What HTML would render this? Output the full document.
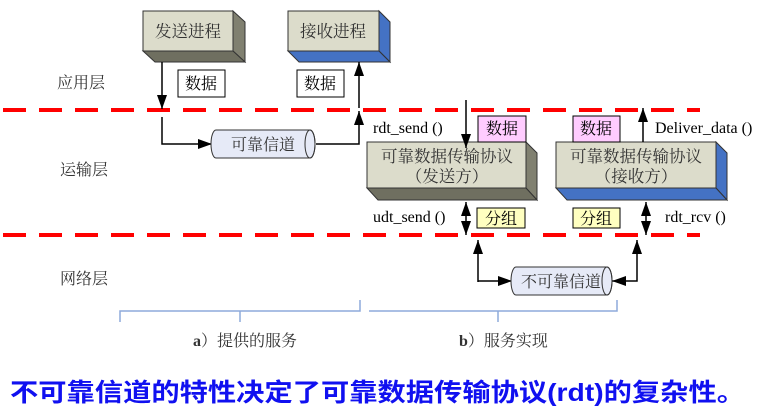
<!DOCTYPE html>
<html><head><meta charset="utf-8"><style>
html,body{margin:0;padding:0;background:#fff;}
svg{display:block;}
text{font-family:"Liberation Serif","Noto Serif CJK SC","Noto Sans CJK SC",serif;}
</style></head><body>
<svg width="764" height="417" viewBox="0 0 764 417" xmlns="http://www.w3.org/2000/svg">
<defs>
<marker id="ah" viewBox="0 0 14 10" refX="14" refY="5" markerWidth="14" markerHeight="10" orient="auto-start-reverse" markerUnits="userSpaceOnUse"><path d="M0,0 L14,5 L0,10 z" fill="#000"/></marker>
</defs>
<rect width="764" height="417" fill="#fff"/>
<line x1="3" y1="110" x2="700" y2="110" stroke="#f00" stroke-width="4" stroke-dasharray="23,13"/>
<line x1="3" y1="235" x2="700" y2="235" stroke="#f00" stroke-width="4" stroke-dasharray="23,13"/>
<g font-size="16" fill="#333">
<text x="57" y="88">应用层</text>
<text x="60" y="175">运输层</text>
<text x="60" y="284">网络层</text>
</g>
<polygon points="233,11 245,22 245,62 233,51" fill="#808070" stroke="#333"/>
<polygon points="143,51 233,51 245,62 155,62" fill="#6f6f60" stroke="#333"/>
<rect x="143" y="11" width="90" height="40" fill="#dcdccb" stroke="#333"/>
<text x="188" y="37" font-size="16.5" text-anchor="middle" fill="#333">发送进程</text>
<polygon points="379,11 390,22 390,62 379,51" fill="#4472c4" stroke="#333"/>
<polygon points="288,51 379,51 390,62 299,62" fill="#4472c4" stroke="#333"/>
<rect x="288" y="11" width="91" height="40" fill="#dcdccb" stroke="#333"/>
<text x="333" y="37" font-size="16.5" text-anchor="middle" fill="#333">接收进程</text>
<rect x="178" y="70" width="47" height="27" fill="#fff" stroke="#000"/>
<text x="201" y="89" font-size="16" text-anchor="middle">数据</text>
<rect x="297" y="70" width="47" height="27" fill="#fff" stroke="#000"/>
<text x="320" y="89" font-size="16" text-anchor="middle">数据</text>
<line x1="162" y1="62" x2="162" y2="109" stroke="#000" stroke-width="1.5" marker-end="url(#ah)"/>
<polyline points="162,117 162,144 212,144" fill="none" stroke="#000" stroke-width="1.5" marker-end="url(#ah)"/>
<polyline points="316,144 359,144 359,111" fill="none" stroke="#000" stroke-width="1.5" marker-end="url(#ah)"/>
<line x1="359" y1="108" x2="359" y2="62" stroke="#000" stroke-width="1.5" marker-end="url(#ah)"/>
<path d="M216,130 L310,130 A5,14 0 0 1 310,158 L216,158 A5,14 0 0 1 216,130 z" fill="#e6eaf7" stroke="#333"/>
<ellipse cx="310" cy="144" rx="5" ry="14" fill="none" stroke="#333"/>
<text x="263" y="150" font-size="16" text-anchor="middle" fill="#333">可靠信道</text>
<polygon points="526,142 537,153 537,200 526,188" fill="#808070" stroke="#333"/>
<polygon points="367,188 526,188 537,200 378,200" fill="#6f6f60" stroke="#333"/>
<rect x="367" y="142" width="159" height="46" fill="#dcdccb" stroke="#333"/>
<text x="447" y="162" font-size="16.5" text-anchor="middle" fill="#333">可靠数据传输协议</text>
<text x="447" y="182" font-size="16.5" text-anchor="middle" fill="#333">（发送方）</text>
<polygon points="716,142 727,153 727,200 716,188" fill="#4472c4" stroke="#333"/>
<polygon points="556,188 716,188 727,200 567,200" fill="#4472c4" stroke="#333"/>
<rect x="556" y="142" width="160" height="46" fill="#dcdccb" stroke="#333"/>
<text x="636" y="162" font-size="16.5" text-anchor="middle" fill="#333">可靠数据传输协议</text>
<text x="636" y="182" font-size="16.5" text-anchor="middle" fill="#333">（接收方）</text>
<rect x="478" y="116" width="48" height="26" fill="#ffccff" stroke="#000"/>
<text x="502" y="134" font-size="16" text-anchor="middle">数据</text>
<rect x="573" y="116" width="47" height="26" fill="#ffccff" stroke="#000"/>
<text x="596" y="134" font-size="16" text-anchor="middle">数据</text>
<line x1="466" y1="100" x2="466" y2="148" stroke="#000" stroke-width="1.5" marker-end="url(#ah)"/>
<line x1="643" y1="142" x2="643" y2="108" stroke="#000" stroke-width="1.5" marker-end="url(#ah)"/>
<line x1="466" y1="202" x2="466" y2="235" stroke="#000" stroke-width="1.5" marker-start="url(#ah)" marker-end="url(#ah)"/>
<line x1="646" y1="202" x2="646" y2="235" stroke="#000" stroke-width="1.5" marker-start="url(#ah)" marker-end="url(#ah)"/>
<rect x="477" y="208" width="48" height="20" fill="#ffffc0" stroke="#000"/>
<text x="501" y="224" font-size="16" text-anchor="middle">分组</text>
<rect x="573" y="208" width="47" height="20" fill="#ffffc0" stroke="#000"/>
<text x="596" y="224" font-size="16" text-anchor="middle">分组</text>
<g font-size="16">
<text x="373" y="133">rdt_send ()</text>
<text x="655" y="133">Deliver_data ()</text>
<text x="373" y="222">udt_send ()</text>
<text x="665" y="222">rdt_rcv ()</text>
</g>
<line x1="478" y1="282" x2="478" y2="240" stroke="#000" stroke-width="1.5" marker-end="url(#ah)"/>
<line x1="478" y1="281" x2="512" y2="281" stroke="#000" stroke-width="1.5" marker-end="url(#ah)"/>
<polyline points="612,281 637,281 637,240" fill="none" stroke="#000" stroke-width="1.5" marker-start="url(#ah)" marker-end="url(#ah)"/>
<path d="M516,267 L607,267 A5,14 0 0 1 607,295 L516,295 A5,14 0 0 1 516,267 z" fill="#e6eaf7" stroke="#333"/>
<ellipse cx="607" cy="281" rx="5" ry="14" fill="none" stroke="#333"/>
<text x="561" y="287" font-size="16" text-anchor="middle" fill="#333">不可靠信道</text>
<g stroke="#8eaadb" stroke-width="1.5" fill="none">
<polyline points="120,322 120,311 360,311 360,300"/>
<line x1="240" y1="311" x2="240" y2="322"/>
<polyline points="369,311 617,311 617,300"/>
<line x1="498" y1="311" x2="498" y2="322"/>
</g>
<text x="193" y="346" font-size="16" fill="#333"><tspan font-weight="bold">a</tspan>）提供的服务</text>
<text x="459" y="346" font-size="16" fill="#333"><tspan font-weight="bold">b</tspan>）服务实现</text>
<text x="10" y="401" font-size="25" font-weight="bold" fill="#1010f0" textLength="735" lengthAdjust="spacingAndGlyphs" style="font-family:'Liberation Sans','Noto Sans CJK SC',sans-serif">不可靠信道的特性决定了可靠数据传输协议(rdt)的复杂性。</text>
</svg>
</body></html>
